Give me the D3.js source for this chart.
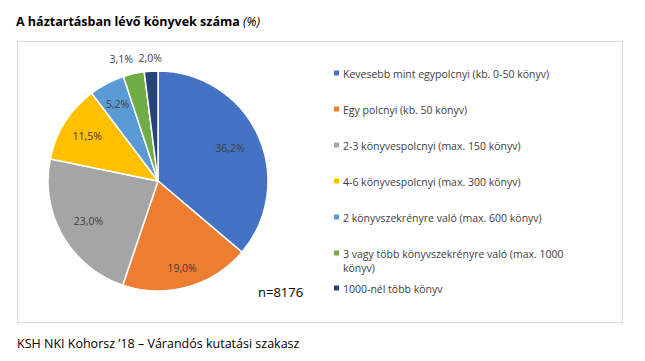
<!DOCTYPE html>
<html>
<head>
<meta charset="utf-8">
<script src="https://cdn.jsdelivr.net/npm/d3@7"></script>
<style>
  body { margin: 0; background: #fff; }
  text { font-family: "Open Sans", "Liberation Sans", sans-serif; }
</style>
</head>
<body>
<div id="chart"></div>
<script>
"use strict";

// categories and shares (%), clockwise from 12 o'clock
const categories = [
  "Kevesebb mint egypolcnyi (kb. 0-50 könyv)",
  "Egy polcnyi (kb. 50 könyv)",
  "2-3 könyvespolcnyi (max. 150 könyv)",
  "4-6 könyvespolcnyi (max. 300 könyv)",
  "2 könyvszekrényre való (max. 600 könyv)",
  "3 vagy több könyvszekrényre való (max. 1000 könyv)",
  "1000-nél több könyv"
];
const shares = [36.2, 19.0, 23.0, 11.5, 5.2, 3.1, 2.0];
const colors = ["#4472C4", "#ED7D31", "#A5A5A5", "#FFC000", "#5B9BD5", "#70AD47", "#264478"];

const msm = {
  width: 645,
  height: 361,
  cx: 158,
  cy: 181,
  r: 110
};

const svg = d3.select("#chart")
  .append("svg")
  .attr("width", msm.width)
  .attr("height", msm.height);

// chart frame
svg.append("rect")
  .attr("x", 17.5).attr("y", 41.5)
  .attr("width", 605).attr("height", 281)
  .attr("fill", "#fff")
  .attr("stroke", "#d9d9d9");

// title
let title = svg.append("text")
  .attr("x", 16).attr("y", 26)
  .style("font-size", "12.5px")
  .attr("fill", "#000");
title.append("tspan").style("font-weight", "bold").text("A háztartásban lévő könyvek száma ");
title.append("tspan").style("font-style", "italic").text("(%)");

const data = categories.map((c, i) => ({ name: c, value: shares[i], color: colors[i] }));

const pie = d3.pie().sort(null).value(d => d.value);
const arcs = pie(data);
const arc = d3.arc().innerRadius(0).outerRadius(msm.r);

const g = svg.append("g").attr("transform", `translate(${msm.cx},${msm.cy})`);

g.selectAll("path")
  .data(arcs)
  .enter()
  .append("path")
  .attr("d", arc)
  .attr("fill", d => d.data.color)
  .attr("stroke", "#fff")
  .attr("stroke-width", 1.5);

// label radius per slice (small ones sit outside), plus a nudge for the crowded ones
const labelR = [0.72, 0.82, 0.73, 0.76, 0.79, 1.14, 1.12];
const labelDx = [0, 0, 0, 0, 0, -9, 0];
const fmt = v => v.toFixed(1).replace(".", ",") + "%";

g.selectAll(".lbl")
  .data(arcs)
  .enter()
  .append("text")
  .attr("class", "lbl")
  .attr("transform", (d, i) => {
    let a = (d.startAngle + d.endAngle) / 2;
    let rr = msm.r * labelR[i];
    return `translate(${Math.sin(a) * rr + labelDx[i]},${-Math.cos(a) * rr + 4})`;
  })
  .attr("text-anchor", "middle")
  .style("font-size", "10.5px")
  .attr("fill", "#404040")
  .text(d => fmt(d.data.value));

// legend
const legendY = [74, 110, 146, 182, 218, 254, 289];
const lg = svg.append("g");
data.forEach((d, i) => {
  lg.append("rect")
    .attr("x", 334).attr("y", legendY[i] - 3.5)
    .attr("width", 5).attr("height", 5)
    .attr("fill", d.color);
  let t = lg.append("text")
    .attr("x", 343).attr("y", legendY[i] + 4)
    .style("font-size", "10.5px")
    .attr("fill", "#404040");
  if (i === 5) {
    t.append("tspan").text("3 vagy több könyvszekrényre való (max. 1000");
    t.append("tspan").attr("x", 343).attr("dy", 14).text("könyv)");
  } else {
    t.text(d.name);
  }
});

// sample size
svg.append("text")
  .attr("x", 258).attr("y", 297)
  .style("font-size", "13px")
  .attr("fill", "#000")
  .text("n=8176");

// source
svg.append("text")
  .attr("x", 17).attr("y", 348)
  .style("font-size", "12.5px")
  .attr("fill", "#000")
  .text("KSH NKI Kohorsz ’18 – Várandós kutatási szakasz");
</script>
</body>
</html>
